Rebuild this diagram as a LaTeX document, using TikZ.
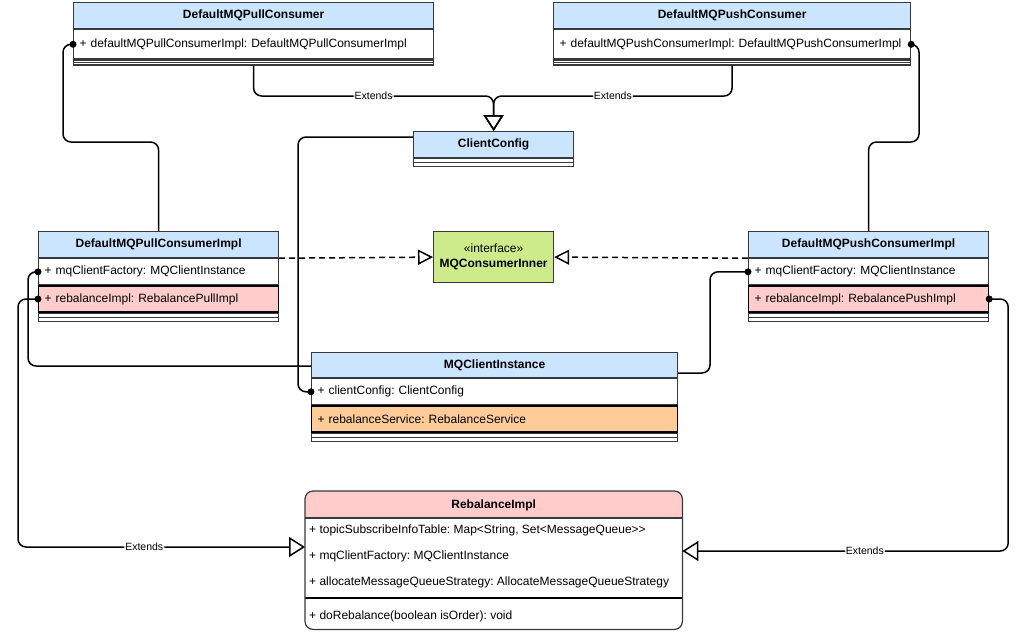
\documentclass[tikz,border=0pt]{standalone}
\usepackage{fontspec}
\setmainfont{Liberation Sans}
\usetikzlibrary{arrows.meta,calc}

\definecolor{hdrblue}{HTML}{CCE5FF}
\definecolor{rowpink}{HTML}{FFCCCC}
\definecolor{roworange}{HTML}{FFCC99}
\definecolor{ifgreen}{HTML}{CDEB8B}
\definecolor{edgegray}{HTML}{36393D}

\newcommand{\umlhead}{\fontsize{12}{14}\selectfont\bfseries}
\newcommand{\umlfield}{\fontsize{12}{14}\selectfont}
\newcommand{\umltag}{\fontsize{10.5}{12}\selectfont}

\tikzset{
    classhead/.style={draw=edgegray, fill=hdrblue, line width=1.2pt, anchor=north west,
        minimum height=26, inner sep=0, font=\umlhead},
    field/.style={draw=edgegray, fill=white, line width=1.2pt, anchor=north west,
        minimum height=26, inner xsep=6, inner ysep=0, align=left, font=\umlfield},
    hotfield/.style={field, draw=black},
    strip/.style={draw=edgegray, fill=white, line width=1.2pt, anchor=north west,
        minimum height=8, inner sep=0,
        path picture={\draw[edgegray, line width=0.8pt] (path picture bounding box.west) -- (path picture bounding box.east);}},
    assoc/.style={line width=1.5pt, rounded corners=8},
    extends/.style={-{Triangle[open, length=16pt, width=20pt]}, line width=1.5pt, rounded corners=8},
    realize/.style={-{Triangle[open, length=15pt, width=15pt]}, line width=1.5pt, dash pattern=on 6pt off 4pt},
    tag/.style={fill=white, inner sep=1pt, font=\umltag},
}

\begin{document}
\frenchspacing
\begin{tikzpicture}[x=1pt, y=-1pt]
    \useasboundingbox (0,0) rectangle (1027,632);

    % DefaultMQPullConsumer
    \node[classhead, minimum width=360] (pullc) at (73,2) {DefaultMQPullConsumer};
    \node[field, text width=348, minimum height=29] (pullc-impl) at (pullc.south west) {+ defaultMQPullConsumerImpl: DefaultMQPullConsumerImpl};
    \node[strip, minimum width=360, minimum height=5] (pullc-end) at (pullc-impl.south west) {};

    % DefaultMQPushConsumer
    \node[classhead, minimum width=357] (pushc) at (553,2) {DefaultMQPushConsumer};
    \node[field, text width=345, minimum height=29] (pushc-impl) at (pushc.south west) {+ defaultMQPushConsumerImpl: DefaultMQPushConsumerImpl};
    \node[strip, minimum width=357, minimum height=5] (pushc-end) at (pushc-impl.south west) {};

    % ClientConfig
    \node[classhead, minimum width=160] (cfg) at (413,131) {ClientConfig};
    \node[strip, minimum width=160] (cfg-end) at (cfg.south west) {};

    % MQConsumerInner
    \node[draw=edgegray, fill=ifgreen, line width=1.2pt, anchor=north west, minimum width=120,
        minimum height=51, inner sep=0, align=center, font=\umlfield] (iface) at (433,231)
        {«interface»\\[1pt]\textbf{MQConsumerInner}};

    % DefaultMQPullConsumerImpl
    \node[classhead, minimum width=240] (pulli) at (38,231) {DefaultMQPullConsumerImpl};
    \node[field, text width=228] (pulli-mqf) at (pulli.south west) {+ mqClientFactory: MQClientInstance};
    \node[hotfield, fill=rowpink, text width=228] (pulli-reb) at (pulli-mqf.south west) {+ rebalanceImpl: RebalancePullImpl};
    \node[strip, minimum width=240] (pulli-end) at (pulli-reb.south west) {};

    % DefaultMQPushConsumerImpl
    \node[classhead, minimum width=240] (pushi) at (748,231) {DefaultMQPushConsumerImpl};
    \node[field, text width=228] (pushi-mqf) at (pushi.south west) {+ mqClientFactory: MQClientInstance};
    \node[hotfield, fill=rowpink, text width=228] (pushi-reb) at (pushi-mqf.south west) {+ rebalanceImpl: RebalancePushImpl};
    \node[strip, minimum width=240] (pushi-end) at (pushi-reb.south west) {};

    % MQClientInstance
    \node[classhead, minimum width=366, minimum height=25] (mqci) at (311,352) {MQClientInstance};
    \node[field, text width=354] (mqci-cfg) at (mqci.south west) {+ clientConfig: ClientConfig};
    \node[hotfield, fill=roworange, text width=354] (mqci-svc) at (mqci-cfg.south west) {+ rebalanceService: RebalanceService};
    \node[strip, minimum width=366] (mqci-end) at (mqci-svc.south west) {};

    % RebalanceImpl
    \node[fill=white, anchor=north west, minimum width=377, minimum height=138, inner sep=0] (reb) at (305,491) {};
    \begin{scope}
        \clip[rounded corners=8] (reb.north west) rectangle (reb.south east);
        \fill[rowpink] (reb.north west) rectangle ($(reb.north east)+(0,27)$);
    \end{scope}
    \draw[edgegray, line width=1.2pt] ($(reb.north west)+(0,27)$) -- ($(reb.north east)+(0,27)$);
    \draw[black, line width=1.2pt] ($(reb.north west)+(0,107)$) -- ($(reb.north east)+(0,107)$);
    \draw[edgegray, line width=1.2pt, rounded corners=8] (reb.north west) rectangle (reb.south east);
    \node[font=\umlhead] (reb-title) at ($(reb.north)+(0,14)$) {RebalanceImpl};
    \node[anchor=west, font=\umlfield, inner sep=0] (reb-topic) at (309,530) {+ topicSubscribeInfoTable: Map<String, Set<MessageQueue>{}>};
    \node[anchor=west, font=\umlfield, inner sep=0] (reb-mqf) at (309,556) {+ mqClientFactory: MQClientInstance};
    \node[anchor=west, font=\umlfield, inner sep=0] (reb-alloc) at (309,582) {+ allocateMessageQueueStrategy: AllocateMessageQueueStrategy};
    \node[anchor=west, font=\umlfield, inner sep=0] (reb-do) at (309,616) {+ doRebalance(boolean isOrder): void};

    % Extends -> ClientConfig
    \draw[extends] (pullc-end.south) |- ($(cfg.north)+(0,-35)$) node[tag, pos=0.75] {Extends} -- (cfg.north);
    \draw[extends] (pushc-end.south) |- ($(cfg.north)+(0,-35)$) node[tag, pos=0.75] {Extends} -- (cfg.north);

    % 实现接口
    \draw[realize] (pulli.south east) -- (iface.west);
    \draw[realize] (pushi.south west) -- (iface.east);

    % 关联
    \draw[assoc] (pullc-impl.west) -| (63,142) -| (pulli.north);
    \draw[assoc] (pushc-impl.east) -| (919,142) -| (pushi.north);
    \draw[assoc] (mqci-cfg.west) -- ++(-13,0) |- ($(cfg.north west)+(0,6)$);
    \draw[assoc] (pulli-mqf.west) -- ++(-10,0) |- ($(mqci.north west)+(0,14)$);
    \draw[assoc] (pushi-mqf.west) -- ++(-38,0) |- ($(mqci.north east)+(0,21)$);

    % Extends -> RebalanceImpl
    \draw[extends] (pulli-reb.west) -- ++(-20,0) |- ($(reb.north west)+(0,56)$) node[tag, pos=0.72] {Extends};
    \draw[extends] (pushi-reb.east) -- ++(19,0) |- ($(reb.north east)+(0,60)$) node[tag, pos=0.72] {Extends};

    % 端点
    \fill (pullc-impl.west) circle[radius=3.5pt];
    \fill (pushc-impl.east) circle[radius=3.5pt];
    \fill (mqci-cfg.west) circle[radius=3.5pt];
    \fill (pulli-mqf.west) circle[radius=3.5pt];
    \fill (pushi-mqf.west) circle[radius=3.5pt];
    \fill (pulli-reb.west) circle[radius=3.5pt];
    \fill (pushi-reb.east) circle[radius=3.5pt];
\end{tikzpicture}
\end{document}
